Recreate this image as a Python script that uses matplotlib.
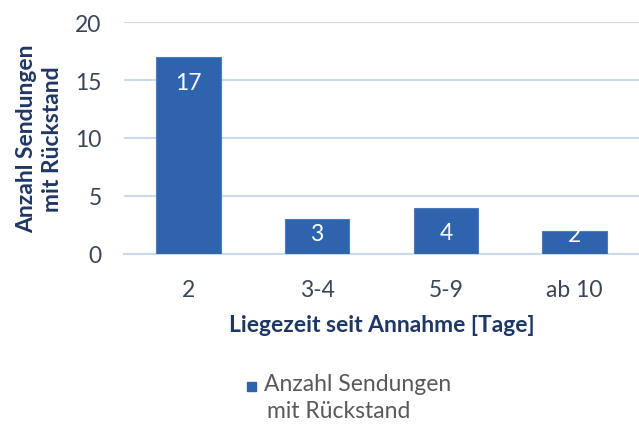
import matplotlib.pyplot as plt
from matplotlib.patches import Rectangle

categories = ["2", "3-4", "5-9", "ab 10"]
counts = [17, 3, 4, 2]
series_name = "Anzahl Sendungen\nmit Rückstand"
y_ticks = [0, 5, 10, 15, 20]

BAR_COLOR = "#2E63AE"
GRID_COLOR = "#C9D9EE"
TICK_COLOR = "#3A4558"
TITLE_COLOR = "#1F3763"

plt.rcParams["font.family"] = ["Lato", "DejaVu Sans"]

fig = plt.figure(figsize=(6.39, 4.27), dpi=100)
ax = fig.add_axes([0.194, 0.403, 0.806, 0.543])

x = range(len(categories))
bars = ax.bar(x, counts, width=0.5, color=BAR_COLOR, edgecolor="#4B7CC0",
              linewidth=0.8, zorder=3)

# Datenbeschriftungen (weiss, innen oben)
label_offsets = [-26, -14, -25, -4]
for rect, v, off in zip(bars, counts, label_offsets):
    ax.annotate(str(v), (rect.get_x() + rect.get_width() / 2, v),
                xytext=(0, off * 0.72), textcoords="offset points",
                ha="center", va="center", color="white", fontsize=16.5,
                zorder=4)

ax.set_xlim(-0.5, len(categories) - 0.5)
ax.set_ylim(0, 20)
ax.set_yticks(y_ticks)
ax.set_xticks(list(x))
ax.set_xticklabels(categories)
ax.yaxis.grid(True, color=GRID_COLOR, linewidth=1.5, zorder=0)
ax.set_axisbelow(True)
for side in ["left", "right", "top"]:
    ax.spines[side].set_visible(False)
ax.spines["bottom"].set_color(GRID_COLOR)
ax.spines["bottom"].set_linewidth(1.5)
ax.tick_params(axis="both", length=0, labelsize=16.5, colors=TICK_COLOR)
ax.tick_params(axis="y", pad=16)
ax.tick_params(axis="x", pad=18)

ax.set_xlabel("Liegezeit seit Annahme [Tage]", fontsize=16.5, fontweight="bold",
              color=TITLE_COLOR, labelpad=10)
ax.set_ylabel(series_name, fontsize=16.5, fontweight="bold", color=TITLE_COLOR,
              labelpad=9, linespacing=1.25)

# Legende
fig.patches.append(Rectangle((247 / 639, 1 - 392 / 427), 9 / 639, 9 / 427,
                             transform=fig.transFigure, color=BAR_COLOR))
fig.text(264 / 639, 1 - 385 / 427, series_name.split("\n")[0], fontsize=16.5,
         color="#595959", va="center", ha="left")
fig.text(267 / 639, 1 - 412 / 427, series_name.split("\n")[1], fontsize=16.5,
         color="#595959", va="center", ha="left")

fig.savefig("out.png", dpi=100)
